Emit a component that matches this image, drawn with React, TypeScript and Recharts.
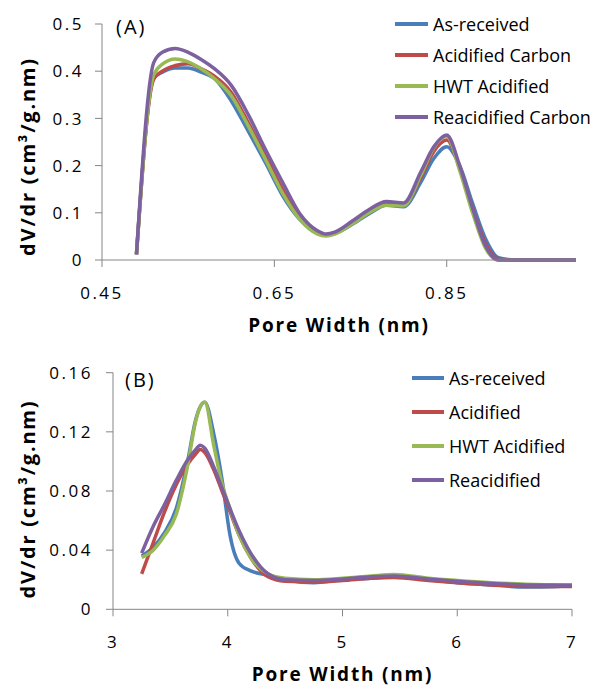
import React from "react";
import { LineChart, Line, XAxis, YAxis, Legend } from "recharts";

// (A) micropore range
const poreA = [0.49, 0.51, 0.52, 0.535, 0.55, 0.565, 0.58, 0.6, 0.62, 0.64, 0.66, 0.68, 0.7, 0.71, 0.72, 0.74, 0.76, 0.78, 0.8, 0.82, 0.835, 0.85, 0.865, 0.88, 0.895, 0.91, 0.93, 0.96, 1.0];
const asReceivedA = [0.012, 0.385, 0.398, 0.407, 0.407, 0.398, 0.385, 0.337, 0.272, 0.205, 0.135, 0.085, 0.057, 0.053, 0.056, 0.075, 0.098, 0.116, 0.113, 0.165, 0.215, 0.24, 0.2, 0.12, 0.045, 0.005, 0, 0, 0];
const acidifiedA = [0.012, 0.383, 0.4, 0.412, 0.416, 0.405, 0.39, 0.355, 0.29, 0.22, 0.148, 0.09, 0.058, 0.053, 0.057, 0.077, 0.101, 0.119, 0.117, 0.175, 0.23, 0.254, 0.195, 0.11, 0.035, 0.002, 0, 0, 0];
const hwtA = [0.012, 0.392, 0.415, 0.426, 0.42, 0.405, 0.385, 0.348, 0.283, 0.212, 0.14, 0.085, 0.055, 0.051, 0.055, 0.076, 0.1, 0.116, 0.115, 0.18, 0.238, 0.262, 0.19, 0.1, 0.025, 0, 0, 0, 0];
const reacidifiedA = [0.012, 0.418, 0.44, 0.448, 0.44, 0.425, 0.406, 0.37, 0.307, 0.233, 0.163, 0.097, 0.062, 0.055, 0.059, 0.082, 0.107, 0.124, 0.121, 0.187, 0.24, 0.265, 0.2, 0.11, 0.03, 0, 0, 0, 0];
const namesA = ["As-received", "Acidified Carbon", "HWT Acidified", "Reacidified Carbon"];
const xTicksA = [0.45, 0.65, 0.85];
const yTicksA = [0, 0.1, 0.2, 0.3, 0.4, 0.5];

// (B) mesopore range
const poreB = [3.25, 3.35, 3.45, 3.55, 3.65, 3.72, 3.76, 3.8, 3.88, 3.95, 4.02, 4.1, 4.2, 4.35, 4.5, 4.75, 5.0, 5.25, 5.45, 5.75, 6.0, 6.3, 6.6, 7.0];
const asReceivedB = [0.036, 0.042, 0.052, 0.068, 0.1, 0.128, 0.137, 0.14, 0.118, 0.088, 0.05, 0.031, 0.026, 0.023, 0.02, 0.018, 0.02, 0.021, 0.022, 0.02, 0.018, 0.0165, 0.015, 0.016];
const acidifiedB = [0.024, 0.045, 0.066, 0.084, 0.098, 0.105, 0.108, 0.106, 0.094, 0.08, 0.066, 0.05, 0.035, 0.022, 0.019, 0.0185, 0.0195, 0.021, 0.0215, 0.0195, 0.018, 0.0165, 0.0155, 0.0155];
const hwtB = [0.035, 0.04, 0.05, 0.064, 0.097, 0.127, 0.137, 0.14, 0.11, 0.085, 0.068, 0.05, 0.035, 0.024, 0.021, 0.02, 0.021, 0.0225, 0.0235, 0.021, 0.0195, 0.018, 0.017, 0.0165];
const reacidifiedB = [0.038, 0.056, 0.071, 0.087, 0.101, 0.108, 0.111, 0.109, 0.096, 0.082, 0.068, 0.053, 0.038, 0.024, 0.02, 0.0195, 0.0205, 0.022, 0.0225, 0.0205, 0.019, 0.0175, 0.0165, 0.0163];
const namesB = ["As-received", "Acidified", "HWT Acidified", "Reacidified"];
const xTicksB = [3, 4, 5, 6, 7];
const yTicksB = [0, 0.04, 0.08, 0.12, 0.16];

const colors = ["#4A7EBB", "#BE4B48", "#98B954", "#7D60A0"];
const axisGray = "#868686";
const font = "'Open Sans', sans-serif";

const toRows = (xs: number[], series: number[][]) =>
    xs.map((x, i) => ({ x, s0: series[0][i], s1: series[1][i], s2: series[2][i], s3: series[3][i] }));

const dataA = toRows(poreA, [asReceivedA, acidifiedA, hwtA, reacidifiedA]);
const dataB = toRows(poreB, [asReceivedB, acidifiedB, hwtB, reacidifiedB]);

// tick labels sit a fixed distance under the axis line
const XTick = ({ x, payload, fmt, baseY }: any) => (
    <text x={x} y={baseY} textAnchor="middle" fontFamily={font} fontSize={17}
          letterSpacing={2.5} fill="#000">{fmt(payload.value)}</text>
);

const YTick = ({ x, y, payload, fmt }: any) => (
    <text x={x} y={y} dy="0.36em" textAnchor="end" fontFamily={font} fontSize={17}
          letterSpacing={2.5} fill="#000">{fmt(payload.value)}</text>
);

const LegendBox = ({ payload, names, rowH, lineLen, gap }: any) => {
    const items = [...(payload || [])].sort((a: any, b: any) => names.indexOf(a.value) - names.indexOf(b.value));
    return (
        <div style={{ fontFamily: font, fontSize: 18, color: "#000" }}>
            {items.map((p: any) => (
                <div key={p.value} style={{ display: "flex", alignItems: "center", height: rowH, whiteSpace: "nowrap" }}>
                    <svg width={lineLen} height={6} style={{ marginRight: gap }}>
                        <line x1={0} y1={3} x2={lineLen} y2={3} stroke={p.color} strokeWidth={4}/>
                    </svg>
                    <span>{p.value}</span>
                </div>
            ))}
        </div>
    );
};

const Panel = (props: any) => {
    const { data, names, top, height, margin, yWidth, xHeight, xDomain, yDomain, xTicks, yTicks,
        fmtX, fmtY, yTickGap, titleCy, legend, tag } = props;
    const axisY = height - margin.bottom - xHeight;
    return (
        <div style={{ position: "absolute", left: 0, top, width: 590, height }}>
            <LineChart width={590} height={height} data={data} margin={margin}>
                <XAxis dataKey="x" type="number" domain={xDomain} ticks={xTicks} height={xHeight}
                       stroke={axisGray} tickSize={7} tickMargin={0}
                       tick={(p: any) => <XTick {...p} fmt={fmtX} baseY={axisY + 38.5}/>}
                       label={{
                           content: ({ viewBox }: any) => (
                               <text x={viewBox.x + viewBox.width / 2} y={axisY + 72} textAnchor="middle"
                                     fontFamily={font} fontWeight="bold" fontSize={19} letterSpacing={1.8}
                                     fill="#000">Pore Width  (nm)</text>
                           ),
                       }}/>
                <YAxis type="number" domain={yDomain} ticks={yTicks} width={yWidth} stroke={axisGray}
                       tickSize={7} tickMargin={yTickGap}
                       tick={(p: any) => <YTick {...p} fmt={fmtY}/>}
                       label={{
                           content: () => (
                               <text x={27} y={titleCy} textAnchor="middle" dominantBaseline="central"
                                     transform={`rotate(-90, 27, ${titleCy})`} fontFamily={font}
                                     fontWeight="bold" fontSize={20} letterSpacing={1.8} fill="#000">
                                   dV/dr (cm³/g.nm)
                               </text>
                           ),
                       }}/>
                <Legend layout="vertical" align="center" verticalAlign="middle"
                        wrapperStyle={{ left: legend.left, top: legend.top, width: 200 }}
                        content={(lp: any) => <LegendBox {...lp} names={names} rowH={legend.rowH}
                                                         lineLen={legend.lineLen} gap={legend.gap}/>}/>
                {names.map((n: string, i: number) => (
                    <Line key={n} name={n} dataKey={`s${i}`} type="monotone" stroke={colors[i]}
                          strokeWidth={3.5} dot={false} isAnimationActive={false}/>
                ))}
            </LineChart>
            <div style={{ position: "absolute", left: tag.left, top: tag.top, fontFamily: font, fontSize: 20,
                lineHeight: "20px", letterSpacing: 2 }}>{tag.text}</div>
        </div>
    );
};

export default function App() {
    return (
        <div style={{ position: "absolute", left: 0, top: 0, width: 590, height: 688, background: "#fff" }}>
            <Panel data={dataA} names={namesA} top={0} height={344}
                   margin={{ top: 24, right: 14, left: 0, bottom: 0 }} yWidth={102} xHeight={84}
                   xDomain={[0.45, 1.0]} yDomain={[0, 0.5]} xTicks={xTicksA} yTicks={yTicksA}
                   fmtX={(v: number) => v.toFixed(2)} fmtY={(v: number) => (v === 0 ? "0" : v.toFixed(1))}
                   yTickGap={11} titleCy={156.5}
                   legend={{ left: 395, top: 8.5, rowH: 31, lineLen: 33, gap: 5 }}
                   tag={{ text: "(A)", left: 116, top: 17 }}/>
            <Panel data={dataB} names={namesB} top={344} height={344}
                   margin={{ top: 28.7, right: 18, left: 0, bottom: 0 }} yWidth={113} xHeight={78.7}
                   xDomain={[3, 7]} yDomain={[0, 0.16]} xTicks={xTicksB} yTicks={yTicksB}
                   fmtX={(v: number) => String(v)} fmtY={(v: number) => (v === 0 ? "0" : v.toFixed(2))}
                   yTickGap={13} titleCy={155}
                   legend={{ left: 412, top: 16.7, rowH: 34, lineLen: 32, gap: 5 }}
                   tag={{ text: "(B)", left: 125, top: 26 }}/>
        </div>
    );
}
